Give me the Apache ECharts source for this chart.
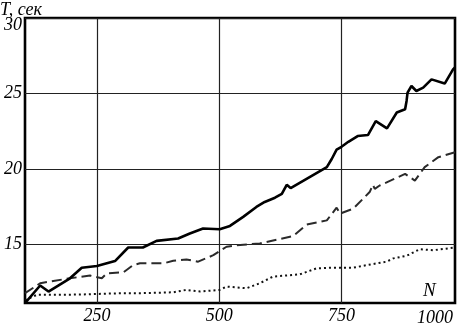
<!DOCTYPE html>
<html><head><meta charset="utf-8">
<script src="https://cdn.jsdelivr.net/npm/echarts@6/dist/echarts.min.js"></script>
<style>html,body{margin:0;padding:0;background:#fff}#c{width:457px;height:325px}</style>
</head><body><div id="c"></div>
<script>
// X axis ticks and labels
const xTicks = [250, 500, 750];
const yTicks = [15, 20, 25, 30];
const xMin = 103, xMax = 982;
const yMin = 11.1, yMax = 30;
const yAxisTitle = 'T, сек';
const xAxisTitle = 'N';
const lastXLabel = '1000';

// Solid line series
const solidN = [103,134,151,195,219,250,287,314,344,372,416,440,467,501,522,549,576,593,614,628,638,646,720,730,740,750,764,783,804,820,843,863,880,883,885,893,903,917,934,961,978,982];
const solidT = [11.09,12.26,11.86,12.74,13.44,13.55,13.88,14.78,14.78,15.22,15.38,15.71,16.04,15.99,16.21,16.81,17.47,17.80,18.08,18.34,18.94,18.72,20.11,20.65,21.27,21.46,21.79,22.17,22.24,23.16,22.68,23.73,23.95,24.50,25.05,25.49,25.16,25.38,25.93,25.65,26.59,26.72];

// Dashed line series
const dashN = [103,134,161,195,236,260,270,304,324,338,386,406,433,457,488,515,536,583,651,679,720,740,747,774,794,808,814,818,828,880,900,920,948,982];
const dashT = [11.75,12.41,12.56,12.74,12.92,12.74,13.07,13.13,13.61,13.73,13.73,13.90,13.99,13.84,14.27,14.83,14.93,15.05,15.54,16.30,16.58,17.42,17.03,17.36,18.01,18.48,18.94,18.67,18.89,19.66,19.22,20.11,20.77,21.10];

// Dotted line series
const dotN = [103,127,154,215,250,304,338,406,433,461,501,515,556,583,610,665,699,733,774,801,842,856,883,910,937,982];
const dotT = [11.29,11.64,11.64,11.66,11.70,11.75,11.75,11.81,11.97,11.86,11.97,12.19,12.08,12.41,12.85,13.00,13.40,13.44,13.44,13.61,13.84,14.06,14.23,14.67,14.60,14.78];

const zip = (a, b) => a.map((v, i) => [v, b[i]]);
const font = 'Liberation Serif';
const chart = echarts.init(document.getElementById('c'), null, {renderer: 'canvas'});
chart.setOption({
  animation: false,
  backgroundColor: '#fff',
  grid: {left: 25, top: 18, right: 2, bottom: 20, show: true, borderColor: '#000', borderWidth: 2.6, backgroundColor: 'transparent'},
  xAxis: {
    type: 'value', min: xMin, max: xMax,
    axisLine: {show: false},
    axisTick: {show: false, customValues: xTicks},
    axisLabel: {customValues: xTicks, fontFamily: font, fontStyle: 'italic', fontSize: 18, color: '#000', margin: 4},
    splitLine: {show: true, lineStyle: {color: '#222', width: 1.2}}
  },
  yAxis: {
    type: 'value', min: yMin, max: yMax,
    axisLine: {show: false},
    axisTick: {show: false, customValues: yTicks},
    axisLabel: {
      customValues: yTicks, fontFamily: font, fontStyle: 'italic', fontSize: 18, color: '#000', margin: 3,
      formatter: v => v === yMax ? '{top|' + v + '}' : String(v),
      rich: {top: {fontFamily: font, fontStyle: 'italic', fontSize: 18, color: '#000', padding: [14, 0, 0, 0]}}
    },
    splitLine: {show: true, lineStyle: {color: '#222', width: 1.2}}
  },
  graphic: [
    {type: 'text', left: 0, top: 1, style: {text: yAxisTitle, font: 'italic 18px "Liberation Serif"', fill: '#000'}},
    {type: 'text', left: 423, top: 281, style: {text: xAxisTitle, font: 'italic 19px "Liberation Serif"', fill: '#000'}},
    {type: 'text', left: 417, top: 309, style: {text: lastXLabel, font: 'italic 18px "Liberation Serif"', fill: '#000'}}
  ],
  series: [
    {type: 'line', data: zip(dotN, dotT), symbol: 'none', lineStyle: {color: '#111', width: 2, type: [2, 3]}},
    {type: 'line', data: zip(dashN, dashT), symbol: 'none', lineStyle: {color: '#2a2a2a', width: 2, type: [10, 5]}},
    {type: 'line', data: zip(solidN, solidT), symbol: 'none', lineStyle: {color: '#000', width: 2.6}}
  ]
});
</script></body></html>
